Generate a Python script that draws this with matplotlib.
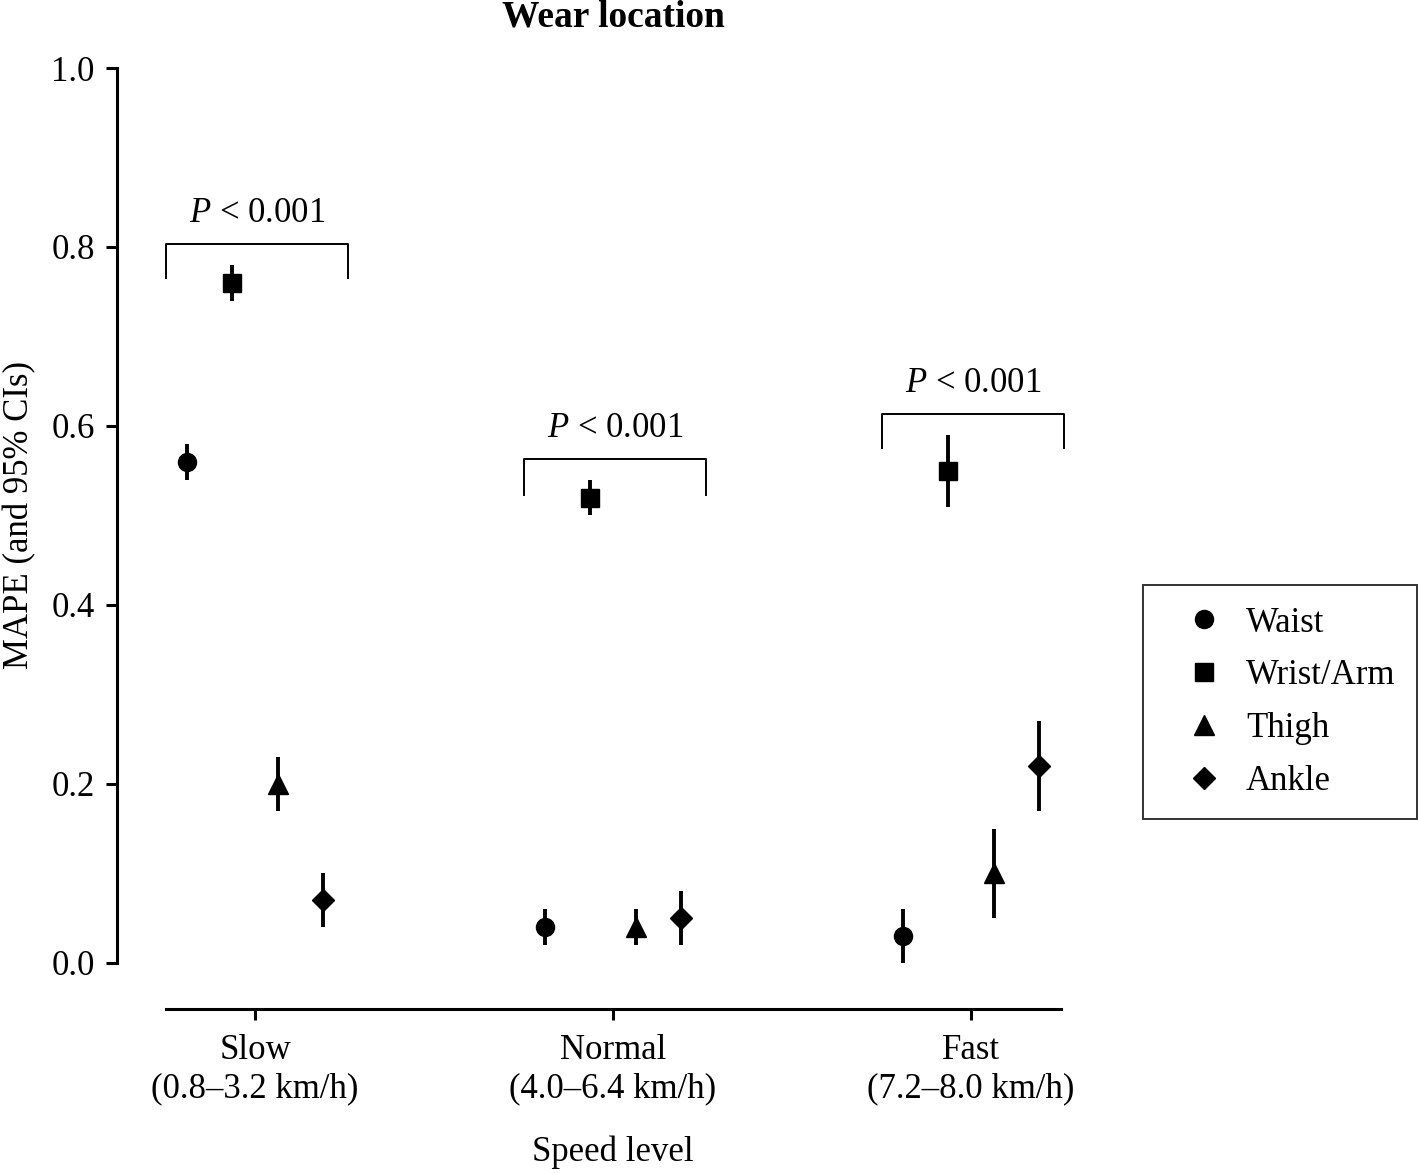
import matplotlib
matplotlib.use("Agg")
import matplotlib.pyplot as plt
from matplotlib.lines import Line2D

plt.rcParams["font.family"] = ["Liberation Serif", "DejaVu Serif"]
plt.rcParams["mathtext.fontset"] = "custom"
plt.rcParams["mathtext.it"] = "Liberation Serif:italic"
plt.rcParams["mathtext.rm"] = "Liberation Serif"

# --- data -------------------------------------------------------------------
speed_labels = ["Slow\n(0.8\u20133.2 km/h)", "Normal\n(4.0\u20136.4 km/h)", "Fast\n(7.2\u20138.0 km/h)"]
locations = ["Waist", "Wrist/Arm", "Thigh", "Ankle"]
markers = ["o", "s", "^", "D"]

mape = {
    "Waist":     [0.56, 0.04, 0.03],
    "Wrist/Arm": [0.76, 0.52, 0.55],
    "Thigh":     [0.20, 0.04, 0.10],
    "Ankle":     [0.07, 0.05, 0.22],
}
ci_low = {
    "Waist":     [0.54, 0.02, 0.00],
    "Wrist/Arm": [0.74, 0.50, 0.51],
    "Thigh":     [0.17, 0.02, 0.05],
    "Ankle":     [0.04, 0.02, 0.17],
}
ci_high = {
    "Waist":     [0.58, 0.06, 0.06],
    "Wrist/Arm": [0.78, 0.54, 0.59],
    "Thigh":     [0.23, 0.06, 0.15],
    "Ankle":     [0.10, 0.08, 0.27],
}

# significance brackets: (bracket top, leg bottom)
bracket_top = [0.803, 0.563, 0.613]
bracket_leg = [0.765, 0.523, 0.575]
p_text = "$P$ < 0.001"

FS = 25

# --- figure -----------------------------------------------------------------
W, H = 1418, 1173
fig = plt.figure(figsize=(W / 100, H / 100), dpi=100)
L, R, T, B = 117, 1063, 68, 1009
ax = fig.add_axes([L / W, 1 - B / H, (R - L) / W, (B - T) / H])

cx0, step = 255, 358
ax.set_xlim((L - cx0) / step, (R - cx0) / step)
ax.set_ylim(-0.0514, 1.0)

offsets = [-0.19, -0.0635, 0.0635, 0.19]
msizes = [13, 13, 15, 11]
for loc, mk, off, ms in zip(locations, markers, offsets, msizes):
    xs = [i + off for i in range(len(speed_labels))]
    ys = mape[loc]
    err = [[y - lo for y, lo in zip(ys, ci_low[loc])],
           [hi - y for y, hi in zip(ys, ci_high[loc])]]
    ax.errorbar(xs, ys, yerr=err, fmt=mk, color="black", ms=ms,
                elinewidth=2.8, capsize=0, clip_on=False)

for i, (top, leg) in enumerate(zip(bracket_top, bracket_leg)):
    x1, x2 = i - 0.25, i + 0.26
    ax.plot([x1, x1, x2, x2], [leg, top, top, leg], color="black", lw=1.4,
            clip_on=False)
    ax.text((x1 + x2) / 2, top + 0.016, p_text, ha="center", va="bottom",
            fontsize=FS)

for s in ["top", "right"]:
    ax.spines[s].set_visible(False)
ax.spines["left"].set_bounds(0, 1.0)
ax.spines["bottom"].set_bounds(-0.25, 2.25)
for s in ["left", "bottom"]:
    ax.spines[s].set_linewidth(2.2)

ax.set_xticks(range(len(speed_labels)))
ax.set_xticklabels(speed_labels, fontsize=FS, linespacing=1.2)
ax.set_yticks([0, 0.2, 0.4, 0.6, 0.8, 1.0])
ax.set_yticklabels(["0.0", "0.2", "0.4", "0.6", "0.8", "1.0"], fontsize=FS)
ax.tick_params(axis="both", length=8, width=2.2, pad=8)
ax.tick_params(axis="x", pad=10)

fig.text(613 / W, 1 - 1152 / H, "Speed level", ha="center", va="center",
         fontsize=FS)
fig.text(20 / W, 1 - 515 / H, "MAPE (and 95% CIs)", ha="center",
         va="center", rotation=90, fontsize=FS)
fig.text(613 / W, 1 - 17 / H, "Wear location", ha="center", va="center",
         fontsize=FS + 2, fontweight="bold")

handles = [Line2D([], [], marker=mk, color="black", linestyle="none", ms=ms)
           for mk, ms in zip(markers, msizes)]
leg = fig.legend(handles, locations, loc="upper left",
                 bbox_to_anchor=(1143 / W, 1 - 585 / H), fontsize=FS,
                 frameon=True, fancybox=False, edgecolor="black",
                 handletextpad=0.05, labelspacing=0.57, borderpad=0.62,
                 handlelength=2.3, borderaxespad=0)
leg.get_frame().set_linewidth(1.4)

fig.savefig("out.png", dpi=100)
